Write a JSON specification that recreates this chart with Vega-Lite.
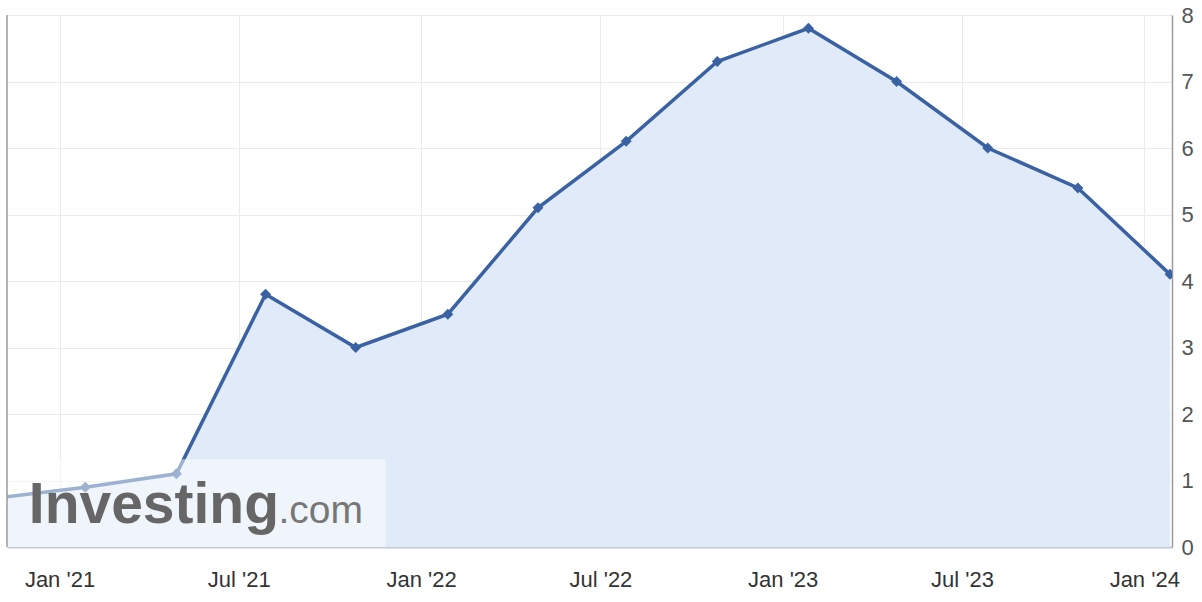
{
  "$schema": "https://vega.github.io/schema/vega-lite/v6.json",
  "autosize": "none",
  "width": 1165,
  "height": 532,
  "padding": {"left": 7, "top": 15, "right": 30, "bottom": 55},
  "background": "white",
  "config": {
    "view": {"stroke": null},
    "font": "Liberation Sans"
  },
  "datasets": {
    "series": [
      {"date": "2020-10-27", "value": 0.73},
      {"date": "2021-01-27", "value": 0.9},
      {"date": "2021-04-29", "value": 1.1},
      {"date": "2021-07-28", "value": 3.8},
      {"date": "2021-10-27", "value": 3.0},
      {"date": "2022-01-28", "value": 3.5},
      {"date": "2022-04-29", "value": 5.1},
      {"date": "2022-07-27", "value": 6.1},
      {"date": "2022-10-27", "value": 7.3},
      {"date": "2023-01-27", "value": 7.8},
      {"date": "2023-04-26", "value": 7.0},
      {"date": "2023-07-27", "value": 6.0},
      {"date": "2023-10-26", "value": 5.4},
      {"date": "2024-01-27", "value": 4.1}
    ],
    "brand": [
      {"word": "Investing"}
    ],
    "suffix": [
      {"word": ".com"}
    ]
  },
  "layer": [
    {
      "data": {"name": "series"},
      "mark": {"type": "area", "color": "#e0eaf8", "clip": true},
      "encoding": {
        "x": {
          "field": "date",
          "type": "temporal",
          "scale": {
            "type": "utc",
            "domain": [
              {"year": 2020, "month": 11, "date": 9, "utc": true},
              {"year": 2024, "month": 1, "date": 29, "utc": true}
            ]
          },
          "axis": {
            "title": null,
            "format": "%b '%y",
            "tickCount": {"interval": "month", "step": 6},
            "grid": true,
            "gridColor": "#ebebeb",
            "gridWidth": 1,
            "ticks": false,
            "domainColor": "#c3cad6",
            "domainWidth": 2,
            "labelFontSize": 22,
            "labelColor": "#333333",
            "labelPadding": 22,
            "labelFont": "Liberation Sans"
          }
        },
        "y": {
          "field": "value",
          "type": "quantitative",
          "scale": {"domain": [0, 8], "nice": false},
          "axis": {
            "title": null,
            "orient": "right",
            "values": [0, 1, 2, 3, 4, 5, 6, 7, 8],
            "format": "d",
            "grid": true,
            "gridColor": "#ebebeb",
            "gridWidth": 1,
            "ticks": false,
            "domainColor": "#9a9a9a",
            "domainWidth": 1.5,
            "labelFontSize": 22,
            "labelColor": "#555555",
            "labelPadding": 9,
            "labelAlign": "left",
            "labelFont": "Liberation Sans"
          }
        }
      }
    },
    {
      "data": {"name": "series"},
      "mark": {"type": "line", "color": "#3a62a3", "strokeWidth": 3.5, "clip": true},
      "encoding": {
        "x": {"field": "date", "type": "temporal"},
        "y": {"field": "value", "type": "quantitative"}
      }
    },
    {
      "data": {"name": "series"},
      "mark": {"type": "point", "shape": "diamond", "filled": true, "color": "#3a62a3", "size": 120, "opacity": 1, "clip": true},
      "encoding": {
        "x": {"field": "date", "type": "temporal"},
        "y": {"field": "value", "type": "quantitative"}
      }
    },
    {
      "data": {"name": "brand"},
      "mark": {"type": "rect", "fill": "white", "fillOpacity": 0.5},
      "encoding": {
        "x": {"datum": {"year": 2020, "month": 11, "date": 9, "utc": true}, "type": "temporal"},
        "x2": {"datum": {"year": 2021, "month": 11, "date": 26, "utc": true}},
        "y": {"datum": 0, "type": "quantitative"},
        "y2": {"datum": 1.32}
      }
    },
    {
      "data": {"name": "brand"},
      "mark": {"type": "text", "font": "Liberation Sans", "fontWeight": "bold", "fontSize": 57, "color": "#666666", "align": "left", "baseline": "alphabetic"},
      "encoding": {
        "text": {"field": "word"},
        "x": {"datum": {"year": 2020, "month": 12, "date": 1, "utc": true}, "type": "temporal"},
        "y": {"datum": 0.36, "type": "quantitative"}
      }
    },
    {
      "data": {"name": "suffix"},
      "mark": {"type": "text", "font": "Liberation Sans", "fontSize": 39, "color": "#777777", "align": "left", "baseline": "alphabetic"},
      "encoding": {
        "text": {"field": "word"},
        "x": {"datum": {"year": 2021, "month": 8, "date": 10, "utc": true}, "type": "temporal"},
        "y": {"datum": 0.36, "type": "quantitative"}
      }
    },
    {
      "data": {"name": "brand"},
      "mark": {"type": "rule", "color": "#9a9a9a", "strokeWidth": 1.5},
      "encoding": {
        "x": {"datum": {"year": 2020, "month": 11, "date": 9, "utc": true}, "type": "temporal"},
        "y": {"datum": 0, "type": "quantitative"},
        "y2": {"datum": 8}
      }
    }
  ]
}
